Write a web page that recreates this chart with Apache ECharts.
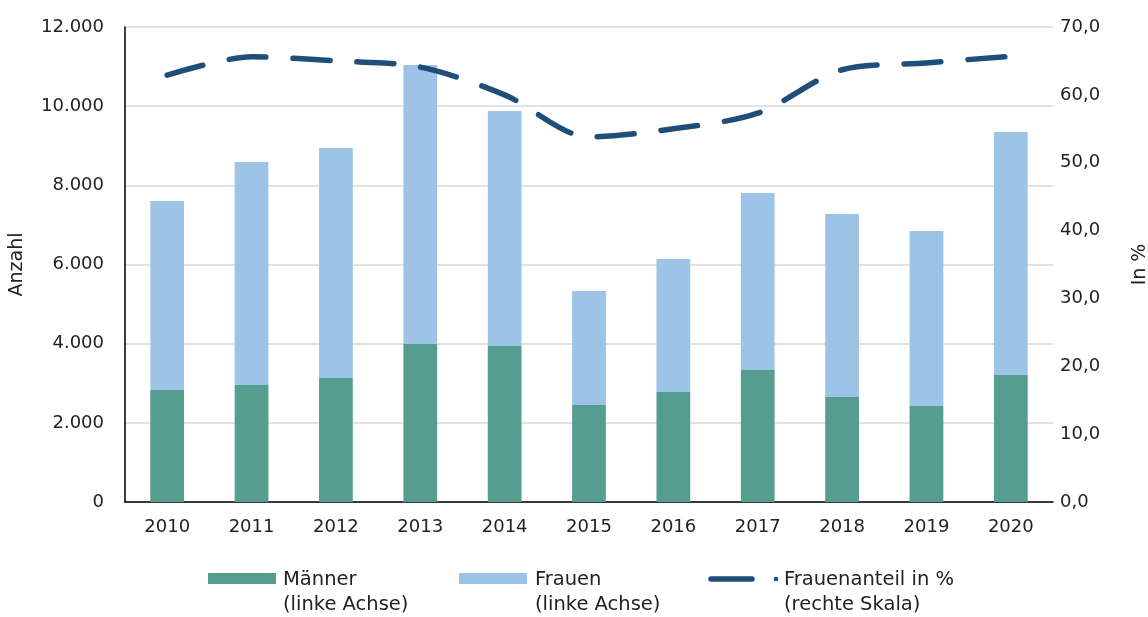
<!DOCTYPE html>
<html><head><meta charset="utf-8">
<script src="https://cdn.jsdelivr.net/npm/echarts@6/dist/echarts.min.js"></script>
<style>html,body{margin:0;padding:0;background:#fff}#c{width:1148px;height:617px}</style>
</head><body><div id="c"></div>
<script>
const years = ['2010','2011','2012','2013','2014','2015','2016','2017','2018','2019','2020'];
const maenner = [2830, 2956, 3133, 3992, 3941, 2451, 2779, 3335, 2653, 2425, 3209];
const frauen = [4775, 5634, 5811, 7049, 5938, 2880, 3360, 4472, 4624, 4422, 6139];
const anteil = [62.9, 65.6, 65.0, 64.1, 60.0, 53.8, 55.0, 57.3, 63.7, 64.7, 65.7];
const leftTicks = {min: 0, max: 12000, interval: 2000};
const rightTicks = {min: 0, max: 70, interval: 10};

const FONT = '"DejaVu Sans", sans-serif';
const C_M = '#559E8F', C_F = '#9DC3E6', C_L = '#1F4E79';
const chart = echarts.init(document.getElementById('c'));
const txt = (t, x, y) => ({type: 'text', left: x, top: y, style: {text: t, font: '19.5px ' + FONT, fill: '#222', lineHeight: 25}});
chart.setOption({
  animation: false,
  textStyle: {fontFamily: FONT},
  grid: {left: 125, right: 95, top: 27, bottom: 115, containLabel: false, outerBoundsMode: 'none'},
  xAxis: {
    type: 'category', data: years,
    axisLine: {lineStyle: {color: '#000', width: 1.5}},
    axisTick: {show: false},
    axisLabel: {color: '#222', fontSize: 18, margin: 16, fontFamily: FONT}
  },
  yAxis: [{
    type: 'value', min: leftTicks.min, max: leftTicks.max, interval: leftTicks.interval,
    name: 'Anzahl', nameLocation: 'middle', nameGap: 98, nameRotate: 90,
    nameTextStyle: {color: '#222', fontSize: 19, fontFamily: FONT},
    axisLine: {show: true, lineStyle: {color: '#000', width: 1.5}},
    axisLabel: {color: '#222', fontSize: 18, margin: 21, fontFamily: FONT,
      formatter: v => v.toLocaleString('de-DE')},
    splitLine: {lineStyle: {color: '#D9D9D9', width: 1.5}}
  }, {
    type: 'value', min: rightTicks.min, max: rightTicks.max, interval: rightTicks.interval,
    name: 'In %', nameLocation: 'middle', nameGap: 78, nameRotate: 90,
    nameTextStyle: {color: '#222', fontSize: 19, fontFamily: FONT},
    axisLine: {show: false},
    axisLabel: {color: '#222', fontSize: 18, margin: 7, fontFamily: FONT,
      formatter: v => v.toFixed(1).replace('.', ',')},
    splitLine: {show: false}
  }],
  series: [
    {name: 'Männer', type: 'bar', stack: 'a', data: maenner, barWidth: '40%', itemStyle: {color: C_M}},
    {name: 'Frauen', type: 'bar', stack: 'a', data: frauen, barWidth: '40%', itemStyle: {color: C_F}},
    {name: 'Frauenanteil in %', type: 'line', yAxisIndex: 1, data: anteil, smooth: 0.3,
      symbol: 'none', lineStyle: {color: C_L, width: 5.5, type: [37, 27], cap: 'round'}}
  ],
  graphic: [
    {type: 'rect', shape: {x: 208, y: 573, width: 68, height: 11}, style: {fill: C_M}},
    txt('Männer\n(linke Achse)', 283, 567),
    {type: 'rect', shape: {x: 459, y: 573, width: 68, height: 11}, style: {fill: C_F}},
    txt('Frauen\n(linke Achse)', 535, 567),
    {type: 'line', shape: {x1: 711, y1: 579, x2: 752, y2: 579}, style: {stroke: C_L, lineWidth: 5.5, lineCap: 'round'}},
    {type: 'circle', shape: {cx: 776, cy: 579, r: 2.3}, style: {fill: C_L}},
    txt('Frauenanteil in %\n(rechte Skala)', 784, 567)
  ]
});
</script></body></html>
